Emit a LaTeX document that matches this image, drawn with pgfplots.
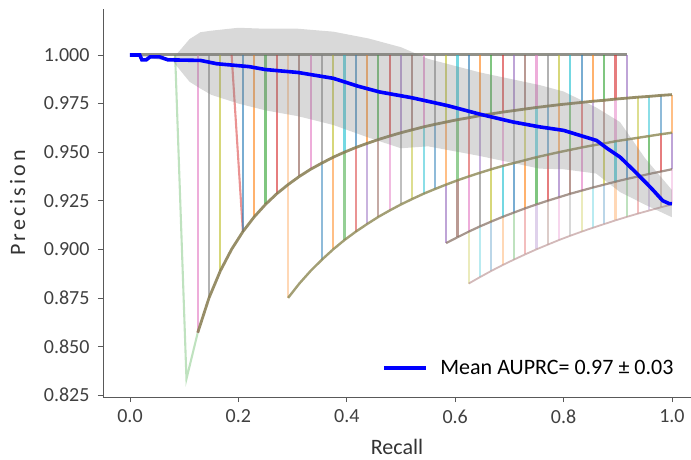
\documentclass[border=0pt]{standalone}
\usepackage{pgfplots}
\pgfplotsset{compat=1.18}
\usepackage{fontspec}
\setmainfont{Carlito}
\definecolor{c0}{HTML}{1F77B4}
\definecolor{c1}{HTML}{FF7F0E}
\definecolor{c2}{HTML}{2CA02C}
\definecolor{c3}{HTML}{D62728}
\definecolor{c4}{HTML}{9467BD}
\definecolor{c5}{HTML}{8C564B}
\definecolor{c6}{HTML}{E377C2}
\definecolor{c7}{HTML}{7F7F7F}
\definecolor{c8}{HTML}{BCBD22}
\definecolor{c9}{HTML}{17BECF}
\definecolor{envA}{HTML}{857A4E}
\definecolor{envB}{HTML}{8C8752}
\definecolor{envC}{HTML}{8A7468}
\definecolor{envD}{HTML}{C4A2A2}
\definecolor{topl}{HTML}{85857C}
\pgfplotsset{
  seg/.style={line width=2.1pt, forget plot},
  tA/.style={seg, draw opacity=0.6},
  tB/.style={seg, draw opacity=0.5},
  tC/.style={seg, draw opacity=0.6},
  tD/.style={seg, draw opacity=0.3},
}
\begin{document}
\begin{tikzpicture}
\useasboundingbox (-103pt,-62pt) rectangle (588pt,397pt);
\begin{axis}[
  scale only axis,
  width=588pt, height=388pt,
  xmin=-0.0498, xmax=1.0351,
  ymin=0.824, ymax=1.02366,
  axis x line*=bottom, axis y line*=left,
  axis line style={black!65, line width=0.7pt},
  xtick={0,0.2,0.4,0.6,0.8,1.0},
  ytick={0.825,0.85,0.875,0.9,0.925,0.95,0.975,1.0},
  tick align=outside,
  major tick length=5pt,
  tick style={black!65, line width=0.6pt},
  xticklabel style={yshift=-4pt, /pgf/number format/.cd, fixed, fixed zerofill, precision=1, assume math mode=true},
  yticklabel style={xshift=-5pt, /pgf/number format/.cd, fixed, fixed zerofill, precision=3, assume math mode=true},
  ticklabel style={font=\fontsize{20}{22}\selectfont, text=black!75},
  xlabel={Recall},
  ylabel={Precision},
  label style={font=\fontsize{22}{24}\selectfont, text=black!80},
  xlabel style={at={(axis description cs:0.5,-0.129)}, anchor=center},
  ylabel style={at={(axis description cs:-0.145,0.5)}, anchor=center, font=\fontsize{22}{24}\selectfont\addfontfeature{LetterSpace=14}},
  legend style={at={(axis description cs:0.979,0.075)}, anchor=east, draw=none, fill=none,
    font=\fontsize{22}{24}\selectfont, /tikz/column sep=10pt},
  legend cell align=left,
  legend image code/.code={\draw[#1, line width=4pt] (0pt,0pt) -- (42pt,0pt);},
  clip=false,
]
% ---- top horizontal line (overlap of all folds at precision 1)
\addplot[forget plot, topl, line width=3pt, draw opacity=0.9] coordinates {(0,1.0) (0.9167,1.0)};
% ---- special folds
\addplot[seg, c2, draw opacity=0.3] coordinates {(0.0833,1.0) (0.1042,0.8333) (0.125,0.8571)};
\addplot[seg, c3, draw opacity=0.5] coordinates {(0.1875,1.0) (0.2083,0.9091)};
\addplot[seg, c1, draw opacity=0.3] coordinates {(0.2917,1.0) (0.2917,0.8750)};
% ---- drops from 1 to curve A
\addplot[tA, c6] coordinates {(0.125,1.0) (0.125,0.8571)};
\addplot[tA, c7] coordinates {(0.1458,1.0) (0.1458,0.8750)};
\addplot[tA, c8] coordinates {(0.1667,1.0) (0.1667,0.8889)};
\addplot[tA, c0] coordinates {(0.2083,1.0) (0.2083,0.9091)};
\addplot[tA, c1] coordinates {(0.2292,1.0) (0.2292,0.9167)};
\addplot[tA, c2] coordinates {(0.25,1.0) (0.25,0.9231)};
\addplot[tA, c3] coordinates {(0.2708,1.0) (0.2708,0.9286)};
\addplot[tA, c5] coordinates {(0.3125,1.0) (0.3125,0.9375)};
\addplot[tA, c6] coordinates {(0.3333,1.0) (0.3333,0.9412)};
\addplot[tA, c7] coordinates {(0.3542,1.0) (0.3542,0.9444)};
\addplot[tA, c8] coordinates {(0.375,1.0) (0.375,0.9474)};
\addplot[tA, c9] coordinates {(0.3958,1.0) (0.3958,0.9500)};
\addplot[tA, c0] coordinates {(0.4167,1.0) (0.4167,0.9524)};
\addplot[tA, c1] coordinates {(0.4375,1.0) (0.4375,0.9545)};
\addplot[tA, c2] coordinates {(0.4583,1.0) (0.4583,0.9565)};
\addplot[tA, c3] coordinates {(0.4792,1.0) (0.4792,0.9583)};
\addplot[tA, c4] coordinates {(0.5,1.0) (0.5,0.9600)};
\addplot[tA, c5] coordinates {(0.5208,1.0) (0.5208,0.9615)};
\addplot[tA, c6] coordinates {(0.5417,1.0) (0.5417,0.9630)};
\addplot[tA, c7] coordinates {(0.5625,1.0) (0.5625,0.9643)};
\addplot[tA, c8] coordinates {(0.5833,1.0) (0.5833,0.9655)};
\addplot[tA, c9] coordinates {(0.6042,1.0) (0.6042,0.9667)};
\addplot[tA, c0] coordinates {(0.625,1.0) (0.625,0.9677)};
\addplot[tA, c1] coordinates {(0.6458,1.0) (0.6458,0.9688)};
\addplot[tA, c2] coordinates {(0.6667,1.0) (0.6667,0.9697)};
\addplot[tA, c3] coordinates {(0.6875,1.0) (0.6875,0.9706)};
\addplot[tA, c4] coordinates {(0.7083,1.0) (0.7083,0.9714)};
\addplot[tA, c5] coordinates {(0.7292,1.0) (0.7292,0.9722)};
\addplot[tA, c6] coordinates {(0.75,1.0) (0.75,0.9730)};
\addplot[tA, c7] coordinates {(0.7708,1.0) (0.7708,0.9737)};
\addplot[tA, c8] coordinates {(0.7917,1.0) (0.7917,0.9744)};
\addplot[tA, c9] coordinates {(0.8125,1.0) (0.8125,0.9750)};
\addplot[tA, c0] coordinates {(0.8333,1.0) (0.8333,0.9756)};
\addplot[tA, c1] coordinates {(0.8542,1.0) (0.8542,0.9762)};
\addplot[tA, c2] coordinates {(0.875,1.0) (0.875,0.9767)};
\addplot[tA, c3] coordinates {(0.8958,1.0) (0.8958,0.9773)};
\addplot[tA, c4] coordinates {(0.9167,1.0) (0.9167,0.9778)};
% ---- drops from curve A to curve B
\addplot[tB, c0] coordinates {(0.3542,0.9444) (0.3542,0.8947)};
\addplot[tB, c1] coordinates {(0.375,0.9474) (0.375,0.9000)};
\addplot[tB, c2] coordinates {(0.3958,0.9500) (0.3958,0.9048)};
\addplot[tB, c3] coordinates {(0.4167,0.9524) (0.4167,0.9091)};
\addplot[tB, c4] coordinates {(0.4375,0.9545) (0.4375,0.9130)};
\addplot[tB, c5] coordinates {(0.4583,0.9565) (0.4583,0.9167)};
\addplot[tB, c6] coordinates {(0.4792,0.9583) (0.4792,0.9200)};
\addplot[tB, c7] coordinates {(0.5,0.9600) (0.5,0.9231)};
\addplot[tB, c8] coordinates {(0.5208,0.9615) (0.5208,0.9259)};
\addplot[tB, c9] coordinates {(0.5417,0.9630) (0.5417,0.9286)};
\addplot[tB, c0] coordinates {(0.5625,0.9643) (0.5625,0.9310)};
\addplot[tB, c1] coordinates {(0.5833,0.9655) (0.5833,0.9333)};
\addplot[tB, c2] coordinates {(0.6042,0.9667) (0.6042,0.9355)};
\addplot[tB, c3] coordinates {(0.625,0.9677) (0.625,0.9375)};
\addplot[tB, c4] coordinates {(0.6458,0.9688) (0.6458,0.9394)};
\addplot[tB, c5] coordinates {(0.6667,0.9697) (0.6667,0.9412)};
\addplot[tB, c6] coordinates {(0.6875,0.9706) (0.6875,0.9429)};
\addplot[tB, c7] coordinates {(0.7083,0.9714) (0.7083,0.9444)};
\addplot[tB, c8] coordinates {(0.7292,0.9722) (0.7292,0.9459)};
\addplot[tB, c9] coordinates {(0.75,0.9730) (0.75,0.9474)};
\addplot[tB, c0] coordinates {(0.7708,0.9737) (0.7708,0.9487)};
\addplot[tB, c1] coordinates {(0.7917,0.9744) (0.7917,0.9500)};
\addplot[tB, c2] coordinates {(0.8125,0.9750) (0.8125,0.9512)};
\addplot[tB, c3] coordinates {(0.8333,0.9756) (0.8333,0.9524)};
\addplot[tB, c4] coordinates {(0.8542,0.9762) (0.8542,0.9535)};
\addplot[tB, c5] coordinates {(0.875,0.9767) (0.875,0.9545)};
\addplot[tB, c6] coordinates {(0.8958,0.9773) (0.8958,0.9556)};
\addplot[tB, c7] coordinates {(0.9167,0.9778) (0.9167,0.9565)};
\addplot[tB, c8] coordinates {(0.9375,0.9783) (0.9375,0.9574)};
\addplot[tB, c9] coordinates {(0.9583,0.9787) (0.9583,0.9583)};
\addplot[tB, c0] coordinates {(0.9792,0.9792) (0.9792,0.9592)};
\addplot[tB, c1] coordinates {(1.0,0.9796) (1.0,0.9600)};
% ---- drops from curve B to curve C
\addplot[tC, c4] coordinates {(0.5833,0.9333) (0.5833,0.9032)};
\addplot[tC, c5] coordinates {(0.6042,0.9355) (0.6042,0.9062)};
\addplot[tC, c6] coordinates {(0.625,0.9375) (0.625,0.9091)};
\addplot[tC, c7] coordinates {(0.6458,0.9394) (0.6458,0.9118)};
\addplot[tC, c8] coordinates {(0.6667,0.9412) (0.6667,0.9143)};
\addplot[tC, c9] coordinates {(0.6875,0.9429) (0.6875,0.9167)};
\addplot[tC, c0] coordinates {(0.7083,0.9444) (0.7083,0.9189)};
\addplot[tC, c1] coordinates {(0.7292,0.9459) (0.7292,0.9211)};
\addplot[tC, c2] coordinates {(0.75,0.9474) (0.75,0.9231)};
\addplot[tC, c3] coordinates {(0.7708,0.9487) (0.7708,0.9250)};
\addplot[tC, c4] coordinates {(0.7917,0.9500) (0.7917,0.9268)};
\addplot[tC, c5] coordinates {(0.8125,0.9512) (0.8125,0.9286)};
\addplot[tC, c6] coordinates {(0.8333,0.9524) (0.8333,0.9302)};
\addplot[tC, c7] coordinates {(0.8542,0.9535) (0.8542,0.9318)};
\addplot[tC, c8] coordinates {(0.875,0.9545) (0.875,0.9333)};
\addplot[tC, c9] coordinates {(0.8958,0.9556) (0.8958,0.9348)};
\addplot[tC, c0] coordinates {(0.9167,0.9565) (0.9167,0.9362)};
\addplot[tC, c1] coordinates {(0.9375,0.9574) (0.9375,0.9375)};
\addplot[tC, c2] coordinates {(0.9583,0.9583) (0.9583,0.9388)};
\addplot[tC, c3] coordinates {(0.9792,0.9592) (0.9792,0.9400)};
\addplot[tC, c4] coordinates {(1.0,0.9600) (1.0,0.9412)};
% ---- drops from curve C to curve D
\addplot[tD, c8] coordinates {(0.625,0.9091) (0.625,0.8824)};
\addplot[tD, c9] coordinates {(0.6458,0.9118) (0.6458,0.8857)};
\addplot[tD, c0] coordinates {(0.6667,0.9143) (0.6667,0.8889)};
\addplot[tD, c1] coordinates {(0.6875,0.9167) (0.6875,0.8919)};
\addplot[tD, c2] coordinates {(0.7083,0.9189) (0.7083,0.8947)};
\addplot[tD, c3] coordinates {(0.7292,0.9211) (0.7292,0.8974)};
\addplot[tD, c4] coordinates {(0.75,0.9231) (0.75,0.9000)};
\addplot[tD, c5] coordinates {(0.7708,0.9250) (0.7708,0.9024)};
\addplot[tD, c6] coordinates {(0.7917,0.9268) (0.7917,0.9048)};
\addplot[tD, c7] coordinates {(0.8125,0.9286) (0.8125,0.9070)};
\addplot[tD, c8] coordinates {(0.8333,0.9302) (0.8333,0.9091)};
\addplot[tD, c9] coordinates {(0.8542,0.9318) (0.8542,0.9111)};
\addplot[tD, c0] coordinates {(0.875,0.9333) (0.875,0.9130)};
\addplot[tD, c1] coordinates {(0.8958,0.9348) (0.8958,0.9149)};
\addplot[tD, c2] coordinates {(0.9167,0.9362) (0.9167,0.9167)};
\addplot[tD, c3] coordinates {(0.9375,0.9375) (0.9375,0.9184)};
\addplot[tD, c4] coordinates {(0.9583,0.9388) (0.9583,0.9200)};
\addplot[tD, c5] coordinates {(0.9792,0.9400) (0.9792,0.9216)};
\addplot[tD, c6] coordinates {(1.0,0.9412) (1.0,0.9231)};
% ---- envelope curves (overlapping fold paths)
\addplot[forget plot, envA, line width=2.8pt, draw opacity=0.85] coordinates {
(0.125,0.8571) (0.1458,0.8750) (0.1667,0.8889) (0.1875,0.9000) (0.2083,0.9091) (0.2292,0.9167)
(0.25,0.9231) (0.2708,0.9286) (0.2917,0.9333) (0.3125,0.9375) (0.3333,0.9412) (0.3542,0.9444)
(0.375,0.9474) (0.3958,0.9500) (0.4167,0.9524) (0.4375,0.9545) (0.4583,0.9565) (0.4792,0.9583)
(0.5,0.9600) (0.5208,0.9615) (0.5417,0.9630) (0.5625,0.9643) (0.5833,0.9655) (0.6042,0.9667)
(0.625,0.9677) (0.6458,0.9688) (0.6667,0.9697) (0.6875,0.9706) (0.7083,0.9714) (0.7292,0.9722)
(0.75,0.9730) (0.7708,0.9737) (0.7917,0.9744) (0.8125,0.9750) (0.8333,0.9756) (0.8542,0.9762)
(0.875,0.9767) (0.8958,0.9773) (0.9167,0.9778) (0.9375,0.9783) (0.9583,0.9787) (0.9792,0.9792) (1.0,0.9796)};
\addplot[forget plot, envB, line width=2.4pt, draw opacity=0.8] coordinates {
(0.2917,0.8750) (0.3125,0.8824) (0.3333,0.8889) (0.3542,0.8947) (0.375,0.9000) (0.3958,0.9048)
(0.4167,0.9091) (0.4375,0.9130) (0.4583,0.9167) (0.4792,0.9200) (0.5,0.9231) (0.5208,0.9259)
(0.5417,0.9286) (0.5625,0.9310) (0.5833,0.9333) (0.6042,0.9355) (0.625,0.9375) (0.6458,0.9394)
(0.6667,0.9412) (0.6875,0.9429) (0.7083,0.9444) (0.7292,0.9459) (0.75,0.9474) (0.7708,0.9487)
(0.7917,0.9500) (0.8125,0.9512) (0.8333,0.9524) (0.8542,0.9535) (0.875,0.9545) (0.8958,0.9556)
(0.9167,0.9565) (0.9375,0.9574) (0.9583,0.9583) (0.9792,0.9592) (1.0,0.9600)};
\addplot[forget plot, envC, line width=2.2pt, draw opacity=0.75] coordinates {
(0.5833,0.9032) (0.6042,0.9062) (0.625,0.9091) (0.6458,0.9118) (0.6667,0.9143) (0.6875,0.9167)
(0.7083,0.9189) (0.7292,0.9211) (0.75,0.9231) (0.7708,0.9250) (0.7917,0.9268) (0.8125,0.9286)
(0.8333,0.9302) (0.8542,0.9318) (0.875,0.9333) (0.8958,0.9348) (0.9167,0.9362) (0.9375,0.9375)
(0.9583,0.9388) (0.9792,0.9400) (1.0,0.9412)};
\addplot[forget plot, envD, line width=1.8pt, draw opacity=0.75] coordinates {
(0.625,0.8824) (0.6458,0.8857) (0.6667,0.8889) (0.6875,0.8919) (0.7083,0.8947) (0.7292,0.8974)
(0.75,0.9000) (0.7708,0.9024) (0.7917,0.9048) (0.8125,0.9070) (0.8333,0.9091) (0.8542,0.9111)
(0.875,0.9130) (0.8958,0.9149) (0.9167,0.9167) (0.9375,0.9184) (0.9583,0.9200) (0.9792,0.9216) (1.0,0.9231)};
% ---- mean +/- std band
\addplot[forget plot, fill=gray, fill opacity=0.3, draw=none] coordinates {
(0,1.0) (0.08,0.9985) (0.095,1.0033) (0.11,1.0082) (0.13,1.0117) (0.15,1.0125) (0.2,1.014)
(0.25,1.0135) (0.31,1.0135) (0.375,1.012) (0.44,1.0085) (0.5,1.004) (0.55,0.998) (0.646,0.991)
(0.756,0.9845) (0.8,0.9812) (0.86,0.973) (0.904,0.9655) (0.95,0.947) (1.0,0.9305)
(1.0,0.9165) (0.95,0.923) (0.904,0.9295) (0.86,0.939) (0.8,0.9412) (0.756,0.9415) (0.646,0.948)
(0.55,0.953) (0.5,0.952) (0.44,0.9575) (0.375,0.964) (0.31,0.9685) (0.25,0.9715) (0.2,0.975)
(0.15,0.9795) (0.13,0.9827) (0.11,0.9862) (0.095,0.9913) (0.08,0.9965) (0,1.0)} -- cycle;
% ---- mean curve
\addplot[blue, line width=3.6pt] coordinates {
(0,1.0) (0.018,1.0) (0.022,0.9975) (0.03,0.9975) (0.037,0.999) (0.055,0.999) (0.07,0.9975)
(0.13,0.9972) (0.16,0.9955) (0.22,0.994) (0.25,0.9925) (0.31,0.991) (0.375,0.988) (0.42,0.984)
(0.46,0.981) (0.52,0.978) (0.585,0.974) (0.646,0.9695) (0.707,0.9655) (0.756,0.963) (0.8,0.9612)
(0.861,0.956) (0.88,0.952) (0.904,0.9475) (0.928,0.941) (0.953,0.934) (0.965,0.9305) (0.983,0.925)
(0.995,0.9235) (1.0,0.9235)};
\addlegendentry{Mean AUPRC= 0.97 ± 0.03}
\end{axis}
\end{tikzpicture}
\end{document}
